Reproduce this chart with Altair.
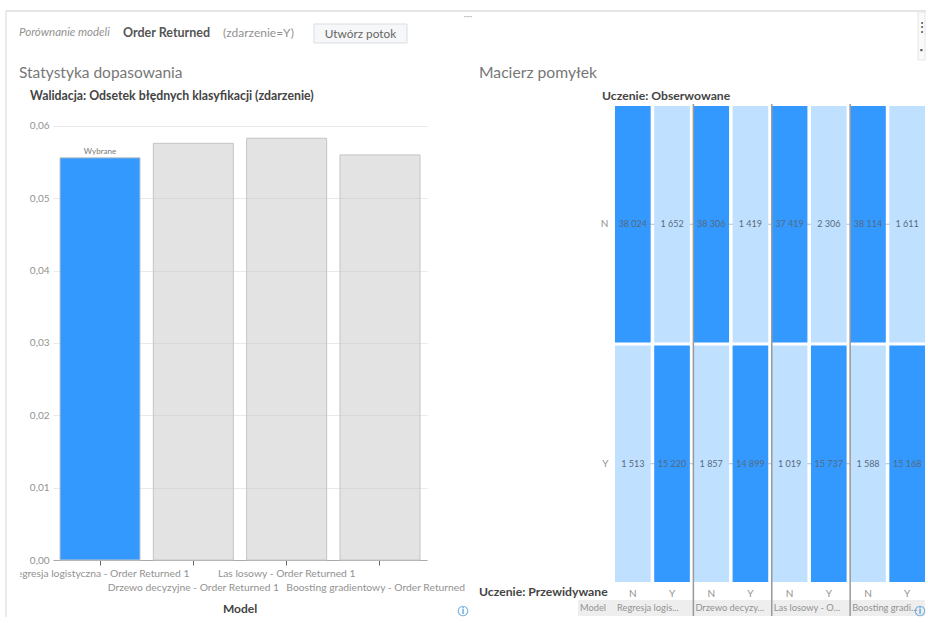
import altair as alt
import pandas as pd

FONT = "Lato"
TEXT_GREY = "#929292"
DARK = "#444444"
BLUE = "#3399ff"
LIGHT_BLUE = "#c0e0ff"
OX, OY = 53, 106     # page position of the first panel's origin
PANEL_GAP = 188
RIGHT_X = 615        # page position of the second panel's origin
PAGE_W, PAGE_H = 926, 617

models = ["Regresja logistyczna - Order Returned 1", "Drzewo decyzyjne - Order Returned 1",
          "Las losowy - Order Returned 1", "Boosting gradientowy - Order Returned 1"]
short_models = ["Regresja logis...", "Drzewo decyzy...", "Las losowy - O...", "Boosting gradi..."]
misclassification = [0.0556, 0.0576, 0.0583, 0.0560]
selected = ["tak", "nie", "nie", "nie"]
label_row = [1, 2, 1, 2]
y_ticks = [0.0, 0.01, 0.02, 0.03, 0.04, 0.05, 0.06]

observed = ["N", "N", "Y", "Y"]
predicted = ["N", "Y", "N", "Y"]
counts = [
    [38024, 1652, 1513, 15220],
    [38306, 1419, 1857, 14899],
    [37419, 2306, 1019, 15737],
    [38114, 1611, 1588, 15168],
]
count_labels = [
    ["38 024", "1 652", "1 513", "15 220"],
    ["38 306", "1 419", "1 857", "14 899"],
    ["37 419", "2 306", "1 019", "15 737"],
    ["38 114", "1 611", "1 588", "15 168"],
]

bars = pd.DataFrame({"model": models, "value": misclassification, "selected": selected, "row": label_row})

cells = pd.DataFrame([
    {"col": f"{m}{predicted[i]}", "obs": observed[i],
     "hit": "tak" if observed[i] == predicted[i] else "nie",
     "count": counts[m][i], "label": count_labels[m][i], "model": m}
    for m in range(4) for i in range(4)
])
col_order = [f"{m}{p}" for m in range(4) for p in ["N", "Y"]]


def one(value=""):
    return alt.Chart(pd.DataFrame({"t": [value]}))


def text(value, x, y, origin_x, size=11, color=TEXT_GREY, weight="normal", style="normal", align="left"):
    return one(value).mark_text(font=FONT, fontSize=size, color=color, fontWeight=weight,
                                fontStyle=style, align=align, baseline="middle").encode(
        x=alt.value(x - origin_x), y=alt.value(y - OY), text="t:N")


def box(x0, y0, x1, y1, origin_x, fill, stroke=None, opacity=1):
    kw = {"stroke": stroke, "strokeWidth": 1} if stroke else {"strokeWidth": 0}
    return one().mark_rect(fill=fill, opacity=opacity, **kw).encode(
        x=alt.value(x0 - origin_x), x2=alt.value(x1 - origin_x),
        y=alt.value(y0 - OY), y2=alt.value(y1 - OY))


def line(x0, y0, x1, y1, origin_x, color, width=1):
    return one().mark_rule(color=color, strokeWidth=width).encode(
        x=alt.value(x0 - origin_x), x2=alt.value(x1 - origin_x),
        y=alt.value(y0 - OY), y2=alt.value(y1 - OY))


def info_icon(x, y, origin_x):
    ring = one().mark_point(shape="circle", size=90, color="#4a9bd8", strokeWidth=1.2, filled=False).encode(
        x=alt.value(x - origin_x), y=alt.value(y - OY))
    return ring + text("i", x, y, origin_x, size=9, color="#4a9bd8", weight="bold", align="center")


# Fit-statistic panel
x_enc = alt.X("model:N", sort=models, title=None,
              scale=alt.Scale(paddingInner=0.1425, paddingOuter=0.075),
              axis=alt.Axis(labels=False, domainColor="#aaaaaa", tickColor="#666666", tickSize=5, grid=False))
y_enc = alt.Y("value:Q", title=None,
              scale=alt.Scale(domain=[0, 0.06276], nice=False, zero=True),
              axis=alt.Axis(values=y_ticks, format=".2f", labelExpr="replace(format(datum.value, '.2f'), '.', ',')",
                            labelFont=FONT, labelFontSize=10, labelColor=TEXT_GREY, domain=False, ticks=False,
                            labelPadding=4, gridColor="#e9e9e9", grid=True))

bar_layer = alt.Chart(bars).mark_bar(stroke="#c4c4c4", strokeWidth=1).encode(
    x=x_enc, y=y_enc,
    color=alt.Color("selected:N", legend=None,
                    scale=alt.Scale(domain=["tak", "nie"], range=[BLUE, "rgba(200,200,200,0.5)"])),
)
selected_note = alt.Chart(bars).transform_filter("datum.selected == 'tak'").mark_text(
    font=FONT, fontSize=8, color="#777777", baseline="bottom", dy=-2).encode(
    x=alt.X("model:N", sort=models), y="value:Q", text=alt.value("Wybrane"))

tick_labels = [
    alt.Chart(bars).transform_filter(f"datum.row == {row}").mark_text(
        font=FONT, fontSize=10.3, color=TEXT_GREY, baseline="middle").encode(
        x=alt.X("model:N", sort=models), y=alt.value(y), text="model:N")
    for row, y in [(1, 574 - OY), (2, 588 - OY)]
]

left = alt.layer(
    box(0, 0, PAGE_W, PAGE_H, OX, "white", opacity=0),
    bar_layer, selected_note, *tick_labels,
    box(0, 560, 20, PAGE_H, OX, "white"),
    box(465, 570, 480, 600, OX, "white"),
    line(6, 11, PAGE_W, 11, OX, "#dddddd", 1.5),
    line(6, 11, 6, PAGE_H, OX, "#e4e4e4", 1.5),
    text("Porównanie modeli", 19, 33, OX, size=11.5, style="italic"),
    text("Order Returned", 123, 33, OX, size=12.5, color="#555555", weight="bold"),
    text("(zdarzenie=Y)", 223, 33, OX, size=12),
    box(314, 24, 407, 43, OX, "#f6f7f9", "#dadde2"),
    text("Utwórz potok", 360.5, 34, OX, size=11.8, color="#666666", align="center"),
    text("Statystyka dopasowania", 19, 73, OX, size=15.5, color="#777777"),
    text("Walidacja: Odsetek błędnych klasyfikacji (zdarzenie)", 30, 96, OX, size=12.3, color=DARK, weight="bold"),
    text("Model", 240, 609, OX, size=12, color=DARK, weight="bold", align="center"),
    text("····", 468, 17, OX, size=8, color="#999999", align="center"),
    info_icon(463, 611, OX),
).properties(width=374, height=454)

# Confusion-matrix panel
col_enc = alt.X("col:N", sort=col_order, title=None,
                scale=alt.Scale(paddingInner=0.09, paddingOuter=0.0),
                axis=alt.Axis(labelExpr="slice(datum.label, 1)", labelAngle=0, labelFont=FONT, labelFontSize=10,
                              labelColor=TEXT_GREY, ticks=False, domain=False, labelPadding=6))
row_enc = alt.Y("obs:N", title=None, sort=["N", "Y"],
                scale=alt.Scale(paddingInner=0.0125, paddingOuter=0.0),
                axis=alt.Axis(labelFont=FONT, labelFontSize=10, labelColor=TEXT_GREY, ticks=False,
                              domain=False, labelPadding=7, grid=False))

# Row guides sit under the cells and only show in the gaps between them
row_guides = alt.Chart(pd.DataFrame({"obs": ["N", "Y"]})).mark_rule(color="#bdbdbd").encode(
    y=alt.Y("obs:N", sort=["N", "Y"]), x=alt.value(0), x2=alt.value(310))
cell_layer = alt.Chart(cells).mark_rect().encode(
    x=col_enc, y=row_enc,
    color=alt.Color("hit:N", legend=None, scale=alt.Scale(domain=["tak", "nie"], range=[BLUE, LIGHT_BLUE])),
)
count_layer = alt.Chart(cells).mark_text(font=FONT, fontSize=9, color="#566a7e").encode(
    x=alt.X("col:N", sort=col_order), y=alt.Y("obs:N", sort=["N", "Y"]), text="label:N")

footer_df = pd.DataFrame({"col": [f"{m}N" for m in range(4)], "name": short_models})
footer_text = alt.Chart(footer_df).mark_text(
    font=FONT, fontSize=9.3, color=TEXT_GREY, align="left", baseline="middle", dx=2).encode(
    x=alt.X("col:N", sort=col_order, bandPosition=0), y=alt.value(608 - OY), text="name:N")
separators = alt.Chart(footer_df[footer_df["col"] != "0N"]).mark_rule(color="#999999", strokeWidth=1.5).encode(
    x=alt.X("col:N", sort=col_order, bandPosition=0), y=alt.value(-2), y2=alt.value(616 - OY))

right = alt.layer(
    box(578, 600, 925, 616, RIGHT_X, "#eeeeee"),
    row_guides, cell_layer, count_layer, footer_text, separators,
    text("Model", 580, 608, RIGHT_X, size=9.3),
    text("Macierz pomyłek", 479, 73, RIGHT_X, size=15.7, color="#777777"),
    text("Uczenie: Obserwowane", 602, 96, RIGHT_X, size=12.2, color=DARK, weight="bold"),
    text("Uczenie: Przewidywane", 479, 592, RIGHT_X, size=12.2, color=DARK, weight="bold"),
    box(918, 12, 925, 60, RIGHT_X, "#fafafa", "#e6e6e6"),
    text("⋮", 922, 27, RIGHT_X, size=12, color="#333333", align="center"),
    text("▪", 921, 51, RIGHT_X, size=8, color="#555555", align="center"),
    info_icon(920, 611, RIGHT_X),
).properties(width=310, height=476)

chart = alt.hconcat(left, right, spacing=PANEL_GAP, bounds="flush").resolve_scale(
    x="independent", y="independent", color="independent"
).properties(padding=0, background="white").configure_view(stroke=None)

chart.save("out.html", embed_options={"renderer": "svg", "actions": False})
